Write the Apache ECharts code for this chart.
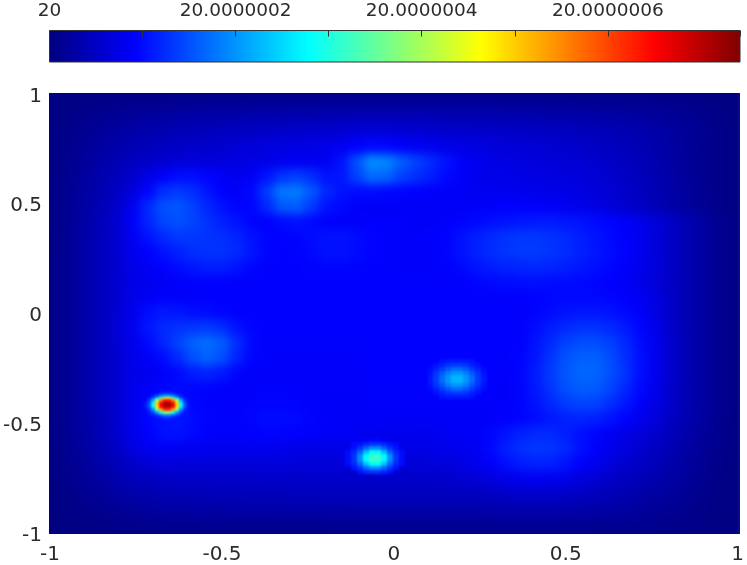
<!DOCTYPE html>
<html>
<head>
<meta charset="utf-8">
<title>heat map</title>
<script src="https://cdn.jsdelivr.net/npm/echarts@6/dist/echarts.min.js"></script>
<style>
html, body { margin: 0; padding: 0; background: #fff; }
#chart { width: 747px; height: 565px; }
/* the field and spot layers are soft shaded, clipped back to the plot box */
#chart canvas[data-zr-dom-id="zr_0"] {
  background: #000080;
  filter: blur(5px);
  clip-path: inset(93px 7px 31px 49px);
}
#chart canvas[data-zr-dom-id="zr_1"] {
  filter: blur(1px);
  clip-path: inset(93px 7px 31px 49px);
}
</style>
</head>
<body>
<div id="chart"></div>
<script>
// values are offsets above 20, in units of 1e-9
const valueMax = 742
const jet = ['#000080', '#0000ff', '#0080ff', '#00ffff', '#80ff80', '#ffff00', '#ff8000', '#ff0000', '#800000']
const xTicks = { min: -1, max: 1, interval: 0.5 }

// coarse field, rows run top to bottom
const field = [
  [2,3,4,5,6,7,8,9,10,11,11,12,12,13,13,14,14,14,15,15,15,16,16,16,16,16,16,15,15,15,14,14,14,13,13,12,12,11,11,10,9,8,6,5,3,2],
  [3,6,9,12,15,18,21,24,26,28,29,30,31,32,33,34,35,35,36,37,38,38,38,38,38,37,36,35,35,34,34,33,32,31,30,29,28,26,25,23,20,17,14,10,6,3],
  [4,9,14,19,24,29,33,36,39,41,43,45,47,49,51,53,55,56,57,59,62,65,64,61,59,57,55,54,53,52,51,50,49,47,45,43,41,39,36,33,29,24,19,14,9,4],
  [5,11,18,25,31,37,42,46,50,53,55,58,61,65,68,71,73,74,76,82,92,98,96,90,85,81,76,73,70,67,65,63,61,59,56,53,50,46,42,37,31,25,18,12,7,4],
  [5,13,21,30,38,46,53,60,64,66,67,68,70,72,76,80,84,84,84,105,150,195,190,160,140,122,104,90,80,75,72,70,68,65,62,60,57,52,47,41,34,26,19,13,7,4],
  [6,15,24,34,44,56,72,88,100,102,96,88,80,88,105,130,138,125,105,108,140,170,165,140,125,112,98,88,80,78,76,74,72,70,68,65,61,56,51,44,36,28,20,13,7,4],
  [6,16,26,37,50,68,95,125,135,125,108,92,88,98,135,178,182,155,120,105,100,100,98,95,92,90,88,86,84,82,82,80,78,76,74,70,66,60,54,46,38,29,21,14,8,4],
  [7,17,28,40,56,85,120,150,155,140,120,105,95,95,120,155,160,135,105,98,90,88,88,88,88,88,88,88,88,90,92,92,90,86,82,78,72,65,58,49,40,30,22,15,8,4],
  [7,18,30,44,60,88,118,142,150,142,128,115,105,95,92,100,105,98,92,90,90,92,92,90,88,88,90,94,98,102,105,108,110,110,108,105,100,94,88,78,65,52,38,26,15,7],
  [8,19,32,46,60,85,105,122,134,132,130,126,118,105,95,94,96,100,104,104,100,95,92,90,90,92,94,104,114,122,128,132,132,128,122,114,106,98,90,80,66,52,38,26,15,7],
  [8,20,32,46,60,80,92,105,115,125,128,128,122,108,96,92,94,98,104,104,100,95,92,90,90,90,94,104,116,124,130,134,134,130,124,116,108,100,92,80,66,52,38,26,15,7],
  [8,20,32,46,60,76,85,92,100,108,112,112,105,96,92,92,92,94,96,96,94,92,92,90,90,90,92,98,106,112,116,118,120,118,114,108,102,96,90,78,65,52,38,26,15,7],
  [8,20,32,46,60,75,80,85,90,92,93,92,92,92,92,92,92,92,92,92,92,92,92,92,92,92,90,92,96,98,100,102,102,100,100,98,96,92,86,76,64,51,38,26,15,7],
  [8,20,32,46,60,76,85,90,90,90,92,92,92,92,92,92,92,92,92,92,92,92,92,92,92,92,92,92,92,92,92,92,94,96,98,98,98,96,92,84,70,54,38,26,15,7],
  [8,20,32,46,62,78,100,110,108,102,100,95,92,92,92,92,92,92,92,92,92,92,92,92,92,92,92,92,92,92,92,90,95,100,105,108,108,105,98,88,72,54,38,26,15,7],
  [8,20,32,46,62,80,108,122,128,132,135,125,105,95,92,92,92,92,92,92,92,92,92,92,92,92,92,92,92,92,92,92,100,112,122,128,128,122,110,95,76,56,38,26,15,7],
  [8,20,32,46,62,78,98,118,140,162,172,160,125,98,92,92,92,92,92,92,92,92,92,92,92,92,92,92,92,92,92,92,105,122,140,148,148,138,120,100,80,58,40,26,15,7],
  [8,20,32,46,60,76,88,100,122,150,165,150,118,95,92,90,90,90,90,90,90,92,92,92,92,92,92,92,92,92,92,95,108,130,152,162,162,148,125,102,80,58,40,26,15,7],
  [8,20,32,46,60,76,80,88,98,112,118,110,95,90,90,90,90,90,90,90,90,92,92,92,92,92,92,92,92,92,90,96,112,135,155,166,165,150,128,102,80,58,40,26,15,7],
  [8,20,32,46,60,78,88,95,98,96,94,92,90,90,92,92,90,90,90,90,90,92,92,92,92,92,92,92,92,90,88,96,110,130,150,160,158,142,120,98,76,56,38,26,15,7],
  [8,20,32,46,60,78,90,100,102,96,92,90,90,94,96,96,94,90,88,88,88,90,90,90,90,90,90,90,90,90,90,94,105,120,135,142,140,126,108,90,72,54,38,26,15,7],
  [8,19,30,44,60,78,95,105,108,100,95,92,92,96,100,100,98,94,90,88,88,88,86,86,86,86,88,88,88,90,92,95,100,108,115,118,115,105,92,80,66,50,36,25,14,6],
  [7,18,28,42,58,78,92,102,105,98,92,90,90,92,94,94,92,90,88,86,84,82,80,80,80,82,84,86,88,96,106,116,122,122,114,103,95,85,75,65,55,44,32,22,12,5],
  [6,16,26,38,52,70,80,85,85,82,80,80,80,80,80,78,76,74,74,76,78,78,76,74,74,76,78,80,84,98,114,126,132,130,120,104,90,78,68,58,48,38,28,19,10,5],
  [5,13,22,32,43,55,62,66,66,66,66,66,66,66,66,65,64,64,64,65,66,66,65,64,64,65,68,72,80,90,102,112,116,115,106,92,80,68,58,50,42,32,24,16,8,4],
  [4,11,18,26,34,42,46,50,52,52,52,53,53,53,54,54,54,55,55,55,55,55,55,55,55,55,56,58,62,68,75,80,82,80,75,68,60,53,46,40,33,26,19,13,7,3],
  [3,8,13,19,25,30,34,37,39,40,41,42,42,43,43,43,44,44,45,45,45,45,45,45,45,45,45,46,47,49,52,54,55,54,52,48,44,40,35,30,25,20,15,10,5,3],
  [2,5,8,12,16,20,23,25,26,27,28,28,29,29,29,30,30,30,30,30,31,31,31,31,31,31,31,31,31,32,33,33,33,33,32,31,29,27,24,21,17,14,10,7,4,2],
  [1,2,4,6,8,9,10,11,12,12,13,13,13,14,14,14,14,14,14,15,15,15,15,15,15,15,15,15,15,15,15,15,15,15,15,15,14,14,13,12,10,8,7,5,3,2]
]

// finer readings round the three small spots, null where the field shows through
const spotLeft = [
  [null,null,null,null,110,115,115,110,null,null,null,null],
  [null,null,110,140,175,200,200,175,140,110,null,null],
  [null,110,150,240,350,440,440,350,240,150,110,null],
  [null,130,220,410,565,640,640,565,410,220,130,null],
  [105,150,275,500,655,710,710,655,500,275,150,105],
  [105,150,270,490,650,705,705,650,490,270,150,105],
  [null,125,200,370,535,620,620,535,370,200,125,null],
  [null,110,140,210,300,380,380,300,210,140,110,null],
  [null,null,110,125,155,180,180,155,125,110,null,null],
  [null,null,null,null,105,110,110,105,null,null,null,null]
]
const spotBottom = [
  [null,null,null,null,95,95,null,null,null,null],
  [null,100,105,120,130,130,120,105,100,null],
  [null,105,130,165,195,195,165,130,105,null],
  [100,120,165,230,275,275,230,165,120,100],
  [100,130,195,275,318,318,275,195,130,100],
  [100,130,195,275,318,318,275,195,130,100],
  [100,120,165,230,275,275,230,165,120,100],
  [null,105,130,165,195,195,165,130,105,null],
  [null,null,105,120,130,130,120,105,null,null],
  [null,null,null,null,null,null,null,null,null,null]
]
const spotRight = [
  [null,null,105,110,110,110,110,105,null,null],
  [null,105,115,130,135,135,130,115,105,null],
  [100,115,135,155,170,170,155,135,115,100],
  [105,130,155,185,200,200,185,155,130,105],
  [110,135,170,200,225,225,200,170,135,110],
  [110,135,170,200,225,225,200,170,135,110],
  [105,130,155,185,200,200,185,155,130,105],
  [100,115,135,155,170,170,155,135,115,100],
  [null,105,115,130,135,135,130,115,105,null],
  [null,null,105,110,110,110,110,105,null,null]
]

// turns a block of rows into [x0, y0, x1, y1, value] cells
function cells (rows, left, top, dx, dy) {
  const out = []
  rows.forEach((row, j) => {
    row.forEach((v, i) => {
      if (v === null) return
      out.push([left + i * dx, top - j * dy, left + (i + 1) * dx, top - (j + 1) * dy, v])
    })
  })
  return out
}

const fieldData = cells(field, -1, 1, 2 / field[0].length, 2 / field.length)
const spotData = [
  ...cells(spotLeft, -0.7285, -0.3555, 0.01159, 0.0136),
  ...cells(spotBottom, -0.1425, -0.5705, 0.01738, 0.01814),
  ...cells(spotRight, 0.098, -0.2140, 0.01738, 0.01814)
]

function renderCell (params, api) {
  const a = api.coord([api.value(0), api.value(1)])
  const b = api.coord([api.value(2), api.value(3)])
  const x = Math.round(a[0])
  const y = Math.round(a[1])
  return {
    type: 'rect',
    shape: { x: x, y: y, width: Math.round(b[0]) - x, height: Math.round(b[1]) - y },
    style: { fill: api.visual('color') }
  }
}

function renderBar (params, api) {
  const a = api.coord([0, 1])
  const b = api.coord([valueMax, 0])
  return {
    type: 'rect',
    shape: { x: a[0], y: a[1], width: b[0] - a[0], height: b[1] - a[1] },
    style: {
      fill: new echarts.graphic.LinearGradient(0, 0, 1, 0, jet.map((c, i) => ({ offset: i / (jet.length - 1), color: c }))),
      stroke: '#333',
      lineWidth: 1
    }
  }
}

const labelStyle = {
  color: '#2b2b2b',
  fontFamily: 'DejaVu Sans',
  fontSize: 20
}

const myChart = echarts.init(document.getElementById('chart'), null, { renderer: 'canvas' })
myChart.setOption({
  animation: false,
  backgroundColor: 'transparent',
  grid: [
    { left: 49, top: 93, width: 691, height: 441 },
    { left: 49.5, top: 30.5, width: 690.5, height: 31.5 }
  ],
  visualMap: {
    show: false,
    seriesIndex: [0, 1],
    dimension: 4,
    min: 0,
    max: valueMax,
    inRange: { color: jet }
  },
  xAxis: [
    {
      type: 'value',
      gridIndex: 0,
      zlevel: 2,
      min: xTicks.min,
      max: xTicks.max,
      interval: xTicks.interval,
      axisLine: { show: false },
      axisTick: { show: false },
      splitLine: { show: false },
      axisLabel: { ...labelStyle, margin: 13 }
    },
    {
      type: 'value',
      gridIndex: 1,
      position: 'top',
      zlevel: 2,
      z: 5,
      min: 0,
      max: valueMax,
      interval: 100,
      axisLine: { show: false, onZero: false },
      axisTick: { show: true, inside: true, length: 6, lineStyle: { color: '#333', width: 1 } },
      splitLine: { show: false },
      axisLabel: {
        ...labelStyle,
        fontSize: 18.5,
        margin: 10,
        hideOverlap: false,
        formatter: v => {
          if (v === 0) return '20'
          return v % 200 === 0 ? '20.000000' + v / 100 : ''
        }
      }
    }
  ],
  yAxis: [
    {
      type: 'value',
      gridIndex: 0,
      zlevel: 2,
      z: 5,
      min: xTicks.min,
      max: xTicks.max,
      interval: xTicks.interval,
      axisLine: { show: false },
      axisTick: { show: false },
      splitLine: { show: false },
      // a short line box under the tick drops the text slightly below centre
      axisLabel: { ...labelStyle, margin: 8, verticalAlign: 'top', lineHeight: 7 }
    },
    { type: 'value', gridIndex: 1, min: 0, max: 1, show: false }
  ],
  series: [
    {
      type: 'custom',
      xAxisIndex: 0,
      yAxisIndex: 0,
      zlevel: 0,
      silent: true,
      progressive: 0,
      renderItem: renderCell,
      data: fieldData
    },
    {
      type: 'custom',
      xAxisIndex: 0,
      yAxisIndex: 0,
      zlevel: 1,
      silent: true,
      progressive: 0,
      renderItem: renderCell,
      data: spotData
    },
    {
      type: 'custom',
      xAxisIndex: 1,
      yAxisIndex: 1,
      zlevel: 2,
      z: 1,
      silent: true,
      renderItem: renderBar,
      data: [[0, valueMax]]
    }
  ]
})
</script>
</body>
</html>
